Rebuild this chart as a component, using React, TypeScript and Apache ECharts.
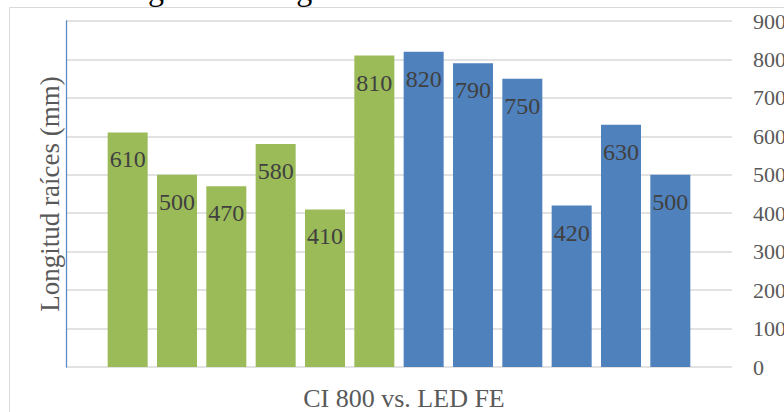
import { useEffect, useRef } from 'react';
import * as echarts from 'echarts';

// Root length (mm) per sample, two lighting treatments
const ciLabel = 'CI 800';
const ledLabel = 'LED FE';
const ciValues = [610, 500, 470, 580, 410, 810];
const ledValues = [820, 790, 750, 420, 630, 500];

const yMin = 0;
const yMax = 900;
const yStep = 100;

const titleText = 'Figura 4. Longitud raíces CI 800 vs. LED FE';
const xAxisTitle = 'CI 800 vs. LED FE';
const yAxisTitle = 'Longitud raíces (mm)';

const SERIF = "'Liberation Serif', 'Times New Roman', serif";

export default function App() {
  const ref = useRef<HTMLDivElement>(null);

  useEffect(() => {
    if (!ref.current) return;
    const chart = echarts.init(ref.current, null, { renderer: 'svg' });

    const ciData = ciValues.map((v, i) => [i, v]);
    const ledData = ledValues.map((v, i) => [ciValues.length + i, v]);
    const total = ciValues.length + ledValues.length;

    const label = {
      show: true,
      position: 'insideTop' as const,
      distance: 15,
      fontFamily: SERIF,
      fontSize: 24,
      color: '#404040',
      formatter: (p: any) => String(p.value[1]),
    };

    chart.setOption({
      animation: false,
      backgroundColor: '#ffffff',
      textStyle: { fontFamily: SERIF },
      graphic: [
        {
          type: 'rect',
          z: -10,
          silent: true,
          shape: { x: 9.5, y: 7.5, width: 820, height: 420 },
          style: { fill: 'none', stroke: '#d9d9d9', lineWidth: 1 },
        },
        {
          type: 'text',
          z: 10,
          silent: true,
          x: 411,
          y: -11,
          style: {
            text: titleText,
            font: `32px ${SERIF}`,
            fill: '#000000',
            align: 'center',
            verticalAlign: 'middle',
          },
        },
      ],
      grid: {
        left: 66,
        right: 52,
        top: 21,
        bottom: 45,
        containLabel: false,
        outerBoundsMode: 'none',
      },
      xAxis: {
        type: 'value',
        min: -1.25,
        max: total + 0.25,
        name: xAxisTitle,
        nameLocation: 'middle',
        nameGap: 18,
        nameTextStyle: {
          fontFamily: SERIF,
          fontSize: 26,
          color: '#595959',
          padding: [0, 0, 0, 10],
        },
        axisLine: { show: false },
        axisTick: { show: false },
        axisLabel: { show: false },
        splitLine: { show: false },
      },
      yAxis: [
        {
          type: 'value',
          position: 'left',
          min: yMin,
          max: yMax,
          interval: yStep,
          name: yAxisTitle,
          nameLocation: 'middle',
          nameGap: 3,
          nameTextStyle: { fontFamily: SERIF, fontSize: 27, color: '#595959' },
          axisLine: {
            show: true,
            onZero: false,
            lineStyle: { color: '#5b8bc9', width: 1.3 },
          },
          axisTick: { show: false },
          axisLabel: { show: false },
          splitLine: { show: true, lineStyle: { color: '#d9d9d9', width: 1.5 } },
        },
        {
          type: 'value',
          position: 'right',
          min: yMin,
          max: yMax,
          interval: yStep,
          axisLine: { show: false, onZero: false },
          axisTick: { show: false },
          splitLine: { show: false },
          axisLabel: {
            margin: 21,
            fontFamily: SERIF,
            fontSize: 22,
            color: '#595959',
          },
        },
      ],
      series: [
        {
          name: ciLabel,
          type: 'bar',
          data: ciData,
          barWidth: 40,
          barGap: '-100%',
          itemStyle: { color: '#9bbb59' },
          label,
        },
        {
          name: ledLabel,
          type: 'bar',
          data: ledData,
          barWidth: 40,
          barGap: '-100%',
          itemStyle: { color: '#4f81bd' },
          label,
        },
      ],
    });

    return () => chart.dispose();
  }, []);

  return (
    <div
      ref={ref}
      style={{ position: 'fixed', left: 0, top: 0, width: 784, height: 412 }}
    />
  );
}
